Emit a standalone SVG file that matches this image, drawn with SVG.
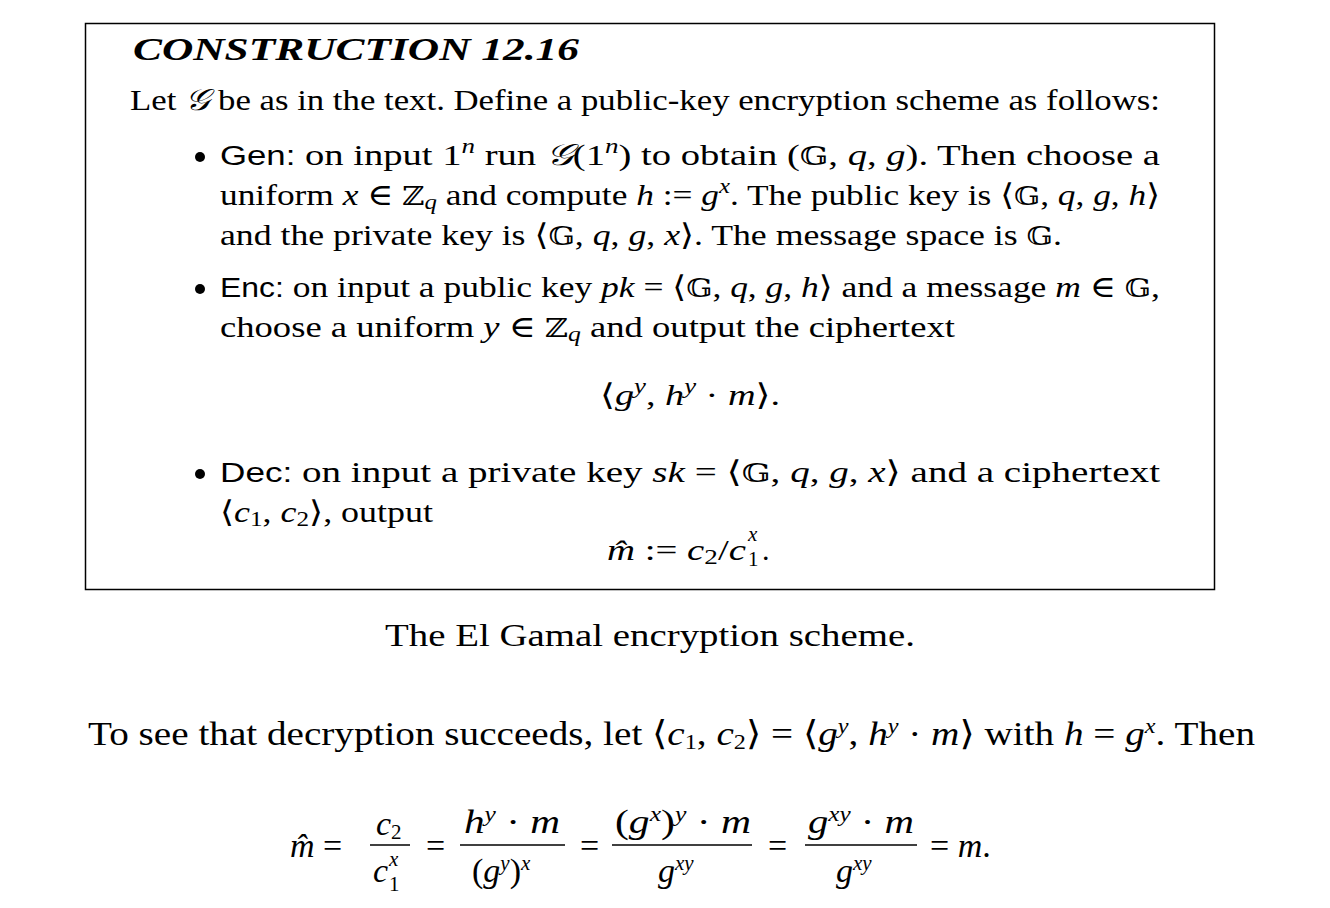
<svg xmlns="http://www.w3.org/2000/svg" width="1330" height="908" viewBox="0 0 1330 908">
<style>
text{font-family:"Liberation Serif","DejaVu Serif",serif;font-size:30px;fill:#000}
.i{font-style:italic}
.s{font-family:"Liberation Sans","DejaVu Sans",sans-serif;font-size:27px}
.bb{font-family:"DejaVu Serif",serif;font-size:26px}
.sup{font-size:21px;font-style:italic}
.sub{font-size:21px}
.big{font-size:34px}
</style>
<rect width="1330" height="908" fill="#fff"/>
<g id="box">
<rect x="85.5" y="23.5" width="1129" height="566" fill="none" stroke="#000" stroke-width="1.5"/>
<text x="133" y="60" textLength="446" lengthAdjust="spacingAndGlyphs" style="font-weight:bold;font-style:italic;font-size:31px">CONSTRUCTION 12.16</text>
<text x="130" y="110" textLength="1030" lengthAdjust="spacingAndGlyphs">Let <tspan class="i">𝒢</tspan> be as in the text. Define a public-key encryption scheme as follows:</text>
<circle cx="200" cy="157" r="5"/>
<text x="220" y="165" textLength="940" lengthAdjust="spacingAndGlyphs"><tspan class="s">Gen:</tspan>  on input 1<tspan class="sup" baseline-shift="super">n</tspan> run <tspan class="i">𝒢</tspan>(1<tspan class="sup" baseline-shift="super">n</tspan>) to obtain (<tspan class="bb">𝔾</tspan>, <tspan class="i">q</tspan>, <tspan class="i">g</tspan>).  Then choose a</text>
<text x="220" y="205" textLength="940" lengthAdjust="spacingAndGlyphs">uniform <tspan class="i">x</tspan> ∈ <tspan class="bb">ℤ</tspan><tspan class="sub i" baseline-shift="-4">q</tspan> and compute <tspan class="i">h</tspan> := <tspan class="i">g</tspan><tspan class="sup" baseline-shift="super">x</tspan>. The public key is ⟨<tspan class="bb">𝔾</tspan>, <tspan class="i">q</tspan>, <tspan class="i">g</tspan>, <tspan class="i">h</tspan>⟩</text>
<text x="220" y="245" textLength="842" lengthAdjust="spacingAndGlyphs">and the private key is ⟨<tspan class="bb">𝔾</tspan>, <tspan class="i">q</tspan>, <tspan class="i">g</tspan>, <tspan class="i">x</tspan>⟩. The message space is <tspan class="bb">𝔾</tspan>.</text>
<circle cx="200" cy="289" r="5"/>
<text x="220" y="297" textLength="940" lengthAdjust="spacingAndGlyphs"><tspan class="s">Enc:</tspan> on input a public key <tspan class="i">pk</tspan> = ⟨<tspan class="bb">𝔾</tspan>, <tspan class="i">q</tspan>, <tspan class="i">g</tspan>, <tspan class="i">h</tspan>⟩ and a message <tspan class="i">m</tspan> ∈ <tspan class="bb">𝔾</tspan>,</text>
<text x="220" y="337" textLength="735" lengthAdjust="spacingAndGlyphs">choose a uniform <tspan class="i">y</tspan> ∈ <tspan class="bb">ℤ</tspan><tspan class="sub i" baseline-shift="-4">q</tspan> and output the ciphertext</text>
<text x="600" y="405" textLength="180" lengthAdjust="spacingAndGlyphs">⟨<tspan class="i">g</tspan><tspan class="sup" baseline-shift="super">y</tspan>,  <tspan class="i">h</tspan><tspan class="sup" baseline-shift="super">y</tspan> · <tspan class="i">m</tspan>⟩.</text>
<circle cx="200" cy="474" r="5"/>
<text x="220" y="482" textLength="940" lengthAdjust="spacingAndGlyphs"><tspan class="s">Dec:</tspan>  on input a private key <tspan class="i">sk</tspan>  =  ⟨<tspan class="bb">𝔾</tspan>, <tspan class="i">q</tspan>, <tspan class="i">g</tspan>, <tspan class="i">x</tspan>⟩  and a ciphertext</text>
<text x="220" y="522" textLength="213" lengthAdjust="spacingAndGlyphs">⟨<tspan class="i">c</tspan><tspan class="sub" baseline-shift="-4">1</tspan>, <tspan class="i">c</tspan><tspan class="sub" baseline-shift="-4">2</tspan>⟩, output</text>
<text x="607" y="560" textLength="139" lengthAdjust="spacingAndGlyphs"><tspan class="i">m̂</tspan> := <tspan class="i">c</tspan><tspan class="sub" baseline-shift="-4">2</tspan>/<tspan class="i">c</tspan></text>
<text x="748" y="566" class="sub">1</text>
<text x="748" y="541" class="sup">x</text>
<text x="762" y="560">.</text>
</g>
<text x="650" y="646" text-anchor="middle" textLength="530" lengthAdjust="spacingAndGlyphs" style="font-size:32px">The El Gamal encryption scheme.</text>
<text x="88" y="745" class="big" textLength="1167" lengthAdjust="spacingAndGlyphs">To see that decryption succeeds, let ⟨<tspan class="i">c</tspan><tspan class="sub" baseline-shift="-4">1</tspan>, <tspan class="i">c</tspan><tspan class="sub" baseline-shift="-4">2</tspan>⟩ = ⟨<tspan class="i">g</tspan><tspan class="sup" baseline-shift="super">y</tspan>,  <tspan class="i">h</tspan><tspan class="sup" baseline-shift="super">y</tspan> · <tspan class="i">m</tspan>⟩ with <tspan class="i">h</tspan> = <tspan class="i">g</tspan><tspan class="sup" baseline-shift="super">x</tspan>. Then</text>
<g id="equation">
<g stroke="#000" stroke-width="1.5">
<line x1="370" y1="845" x2="410" y2="845"/>
<line x1="460" y1="845" x2="565" y2="845"/>
<line x1="612" y1="845" x2="752" y2="845"/>
<line x1="805" y1="845" x2="917" y2="845"/>
</g>
<text x="290" y="857" class="big"><tspan class="i">m̂</tspan>  =</text>
<text x="376" y="835" class="big"><tspan class="i">c</tspan><tspan class="sub" baseline-shift="-4">2</tspan></text>
<text x="373" y="882" class="big i">c</text>
<text x="389" y="891" class="sub">1</text>
<text x="389" y="866" class="sup">x</text>
<text x="426" y="857" class="big">=</text>
<text x="464" y="833" class="big" textLength="96" lengthAdjust="spacingAndGlyphs"><tspan class="i">h</tspan><tspan class="sup" baseline-shift="super">y</tspan> · <tspan class="i">m</tspan></text>
<text x="472" y="882" class="big">(<tspan class="i">g</tspan><tspan class="sup" baseline-shift="super">y</tspan>)<tspan class="sup" baseline-shift="super">x</tspan></text>
<text x="580" y="857" class="big">=</text>
<text x="615" y="833" class="big" textLength="136" lengthAdjust="spacingAndGlyphs">(<tspan class="i">g</tspan><tspan class="sup" baseline-shift="super">x</tspan>)<tspan class="sup" baseline-shift="super">y</tspan> · <tspan class="i">m</tspan></text>
<text x="658" y="882" class="big"><tspan class="i">g</tspan><tspan class="sup" baseline-shift="super">xy</tspan></text>
<text x="768" y="857" class="big">=</text>
<text x="808" y="833" class="big" textLength="106" lengthAdjust="spacingAndGlyphs"><tspan class="i">g</tspan><tspan class="sup" baseline-shift="super">xy</tspan> · <tspan class="i">m</tspan></text>
<text x="836" y="882" class="big"><tspan class="i">g</tspan><tspan class="sup" baseline-shift="super">xy</tspan></text>
<text x="930" y="857" class="big">= <tspan class="i">m</tspan>.</text>
</g>
</svg>
